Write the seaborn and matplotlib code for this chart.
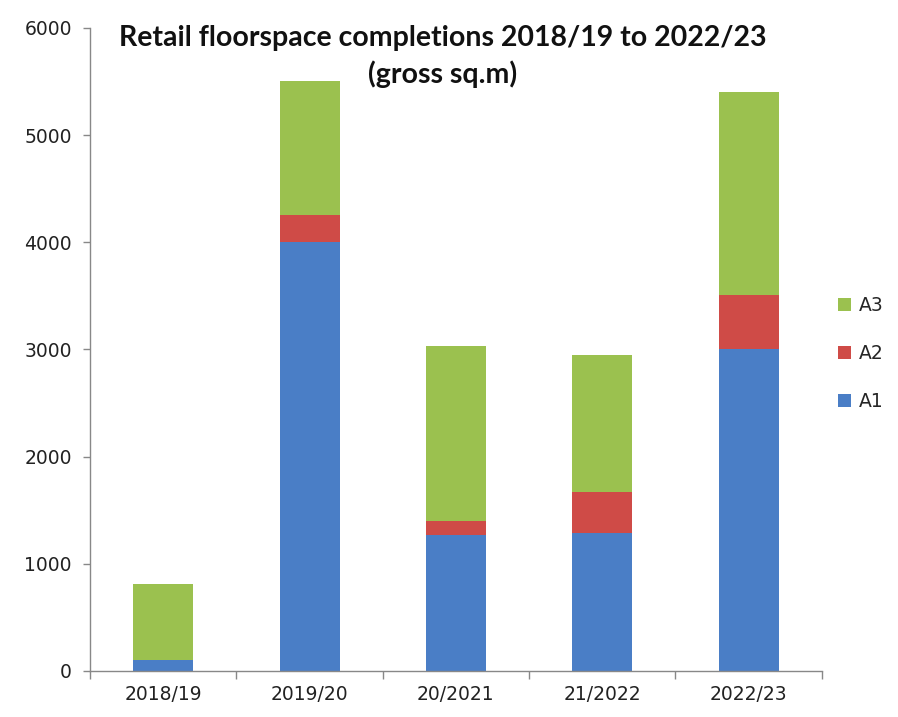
import numpy as np
import pandas as pd
import matplotlib
matplotlib.use("Agg")
import matplotlib.pyplot as plt
from matplotlib.patches import Patch
import seaborn as sns

# Retail floorspace completions by use class (gross sq.m)
years = ["2018/19", "2019/20", "20/2021", "21/2022", "2022/23"]
a1 = [100, 4000, 1270, 1290, 3000]
a2 = [0, 250, 130, 380, 510]
a3 = [710, 1250, 1630, 1280, 1890]

colors = {"A1": "#4a7ec6", "A2": "#cf4b47", "A3": "#9bc14f"}

sns.set_theme(style="white")
plt.rcParams["font.family"] = ["DejaVu Sans"]

df = pd.DataFrame({"year": years, "A1": a1, "A2": a2, "A3": a3})
df["top_A1"] = df["A1"]
df["top_A2"] = df["A1"] + df["A2"]
df["top_A3"] = df["A1"] + df["A2"] + df["A3"]

fig = plt.figure(figsize=(8.98, 7.17), dpi=100)
ax = fig.add_axes([0.1002, 0.0642, 0.815, 0.897])

# Stacked bars: draw cumulative totals from the top segment down
for key in ["A3", "A2", "A1"]:
    sns.barplot(data=df, x="year", y="top_" + key, color=colors[key],
                saturation=1, width=0.41, ax=ax, order=years,
                linewidth=0, edgecolor="none")

ax.set_xlim(-0.5, len(years) - 0.5)
ax.set_ylim(0, 6000)
ax.set_yticks(np.arange(0, 6001, 1000))
ax.set_xlabel("")
ax.set_ylabel("")

# Category-boundary tick marks on the x axis, labels centred under bars
ax.set_xticks(np.arange(-0.5, len(years), 1.0))
ax.set_xticklabels([])
ax.set_xticks(np.arange(len(years)), minor=True)
ax.set_xticklabels(years, minor=True)
ax.tick_params(axis="x", which="major", direction="out", length=6,
               color="#888888", width=1, bottom=True)
ax.tick_params(axis="x", which="minor", length=0, labelsize=13.5,
               labelcolor="#222222", pad=10)
ax.tick_params(axis="y", direction="out", length=5, color="#888888",
               width=1, left=True, labelsize=13.5, labelcolor="#222222", pad=8)

for side in ["top", "right"]:
    ax.spines[side].set_visible(False)
for side in ["left", "bottom"]:
    ax.spines[side].set_color("#888888")
    ax.spines[side].set_linewidth(1.0)

title_font = dict(fontsize=20.5, fontweight="bold",
                  family=["Lato", "DejaVu Sans"], color="#111111")
fig.text(0.493, 0.947, "Retail floorspace completions 2018/19 to 2022/23",
         ha="center", va="center", **title_font)
fig.text(0.493, 0.896, "(gross sq.m)", ha="center", va="center", **title_font)

handles = [Patch(facecolor=colors[k], edgecolor="none", label=k)
           for k in ["A3", "A2", "A1"]]
fig.legend(handles=handles, loc="center left", bbox_to_anchor=(0.925, 0.507),
           frameon=False, fontsize=13.5, handlelength=0.7, handleheight=0.7,
           handletextpad=0.4, labelspacing=1.55, borderaxespad=0)

fig.savefig("out.png", dpi=100, facecolor="white")
